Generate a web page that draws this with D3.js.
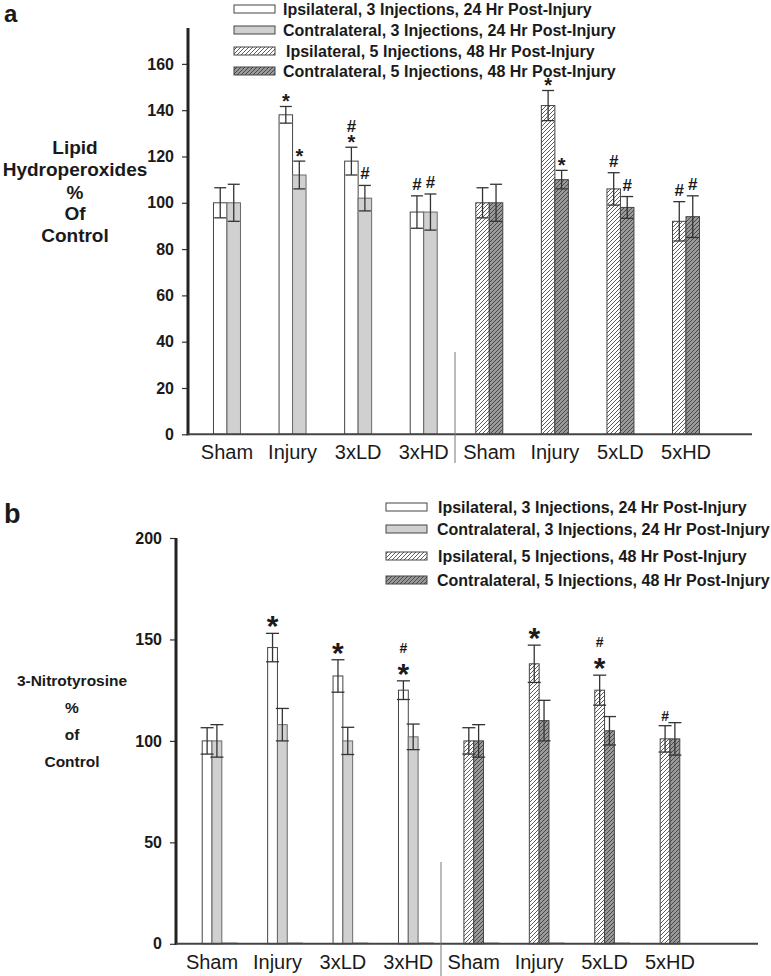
<!DOCTYPE html>
<html><head><meta charset="utf-8">
<script src="https://cdn.jsdelivr.net/npm/d3@7"></script>
<style>
body{margin:0;background:#fff}
svg{display:block}
text{font-family:"Liberation Sans",Arial,Helvetica,sans-serif;fill:#1a1a1a}
</style>
</head><body>
<svg id="chart" width="771" height="976"></svg>
<script>
// ---------- DATA ----------
const categories = ["Sham","Injury","3xLD","3xHD","Sham","Injury","5xLD","5xHD"];
const seriesNames = [
  "Ipsilateral, 3 Injections, 24 Hr Post-Injury",
  "Contralateral, 3 Injections, 24 Hr Post-Injury",
  "Ipsilateral, 5 Injections, 48 Hr Post-Injury",
  "Contralateral, 5 Injections, 48 Hr Post-Injury"
];
// Panel a: Lipid hydroperoxides (% of control)
const lpoTicks = [0,20,40,60,80,100,120,140,160];
const lpoIpsi      = [100,138,118,96,100,142,106,92];
const lpoIpsiErr   = [6.5,3.6,6,7,6.5,6.5,7,8.5];
const lpoContra    = [100,112,102,96,100,110,98,94];
const lpoContraErr = [8,6,5.5,7.8,8,4,4.7,9];
const lpoIpsiMarks   = ["","*","#*","#","","*","#","#"];
const lpoContraMarks = ["","*","#","#","","*","#","#"];
// Panel b: 3-Nitrotyrosine (% of control)
const ntTicks = [0,50,100,150,200];
const ntIpsi      = [100,146,132,125,100,138,125,101];
const ntIpsiErr   = [6.5,7,8,4.6,6.5,9.2,7.4,6.5];
const ntContra    = [100,108,100,102,100,110,105,101];
const ntContraErr = [8,8,6.7,6.3,8,10,7,8];
const ntIpsiMarks   = ["","*","*","#*","","*","#*","#"];
const ntContraMarks = ["","","","","","","",""];

// ---------- SETUP ----------
const svg = d3.select("#chart");
const defs = svg.append("defs");
function hatch(id, bg){
  const p = defs.append("pattern").attr("id",id).attr("patternUnits","userSpaceOnUse")
    .attr("width",4).attr("height",4);
  p.append("rect").attr("width",4).attr("height",4).attr("fill",bg);
  p.append("path").attr("d","M-1,1 l2,-2 M0,4 l4,-4 M3,5 l2,-2")
    .attr("stroke","#333").attr("stroke-width",0.8);
}
hatch("hatchW","#ffffff");
hatch("hatchG","#9a9a9a");
const fills = ["#ffffff","#d0d0d0","url(#hatchW)","url(#hatchG)"];

function drawPanel(cfg, d){
  const g = svg.append("g");
  const y = d3.scaleLinear().domain([0,cfg.yMax]).range([cfg.y0,cfg.yTop]);
  const x = d3.scaleBand().domain(d3.range(categories.length)).range(cfg.xRange);
  const cx = i => x(i) + x.bandwidth()/2;

  // panel letter
  g.append("text").attr("x",cfg.letterX).attr("y",cfg.letterY)
    .attr("font-size",cfg.letterSize).attr("font-weight","bold").text(cfg.letter);

  // y label
  cfg.yLabel.forEach((t,k)=>{
    g.append("text").attr("x",cfg.yLabelX).attr("y",cfg.yLabelY[k])
      .attr("text-anchor","middle").attr("font-size",cfg.yLabelSize)
      .attr("font-weight","bold").text(t);
  });

  // y axis
  const ya = g.append("g").attr("transform",`translate(${cfg.axisX},0)`)
    .call(d3.axisLeft(y).tickValues(cfg.ticks).tickSize(6).tickPadding(8));
  ya.select(".domain").remove();
  ya.selectAll(".tick line").attr("stroke","#333").attr("stroke-width",1.2);
  ya.selectAll(".tick text").attr("font-size",16).attr("font-weight","bold")
    .attr("font-family","Liberation Sans, Arial, sans-serif").attr("fill","#1a1a1a");
  g.append("line").attr("x1",cfg.axisX).attr("x2",cfg.axisX)
    .attr("y1",y(0)+1).attr("y2",cfg.yTop).attr("stroke","#222").attr("stroke-width",3);

  // bars
  const bw = cfg.bw;
  const bars = [];
  categories.forEach((c,i)=>{
    const s0 = i<4 ? 0 : 2, s1 = i<4 ? 1 : 3;
    bars.push({i, s:s0, v:d.ipsi[i], e:d.ipsiErr[i], m:d.ipsiMarks[i], x0:cx(i)-bw});
    bars.push({i, s:s1, v:d.contra[i], e:d.contraErr[i], m:d.contraMarks[i], x0:cx(i)});
  });
  // phantom zero-height bars (panel b only)
  if(cfg.phantom){
    cfg.phantom.forEach(i=>{
      g.append("line").attr("x1",cx(i)+bw).attr("x2",cx(i)+bw*2.6)
        .attr("y1",y(0)-0.5).attr("y2",y(0)-0.5).attr("stroke","#555").attr("stroke-width",1.3);
    });
  }
  g.selectAll("rect.bar").data(bars).enter().append("rect").attr("class","bar")
    .attr("x",b=>b.x0).attr("width",bw)
    .attr("y",b=>y(b.v)).attr("height",b=>y(0)-y(b.v))
    .attr("fill",b=>fills[b.s]).attr("stroke",b=>b.s===1?"#6a6a6a":"#444").attr("stroke-width",1);

  // error bars
  const cw = cfg.capW;
  bars.forEach(b=>{
    const xm = b.x0 + bw/2, yt = y(b.v+b.e), yb = y(b.v-b.e);
    g.append("line").attr("x1",xm).attr("x2",xm).attr("y1",yt).attr("y2",yb)
      .attr("stroke","#333").attr("stroke-width",1.3);
    [yt,yb].forEach(yy=>g.append("line").attr("x1",xm-cw/2).attr("x2",xm+cw/2)
      .attr("y1",yy).attr("y2",yy).attr("stroke","#333").attr("stroke-width",1.3));
    // significance marks (stacked "#" above "*" in one text element)
    if(b.m){
      const hasStar = b.m.includes("*"), hasHash = b.m.includes("#");
      const t = g.append("text").attr("text-anchor","middle").attr("font-weight","bold");
      if(hasHash){
        t.append("tspan").attr("x",xm).attr("y",yt+(hasStar?cfg.hashStackOff:cfg.hashOff))
          .attr("font-size",cfg.hashSize).text("#");
      }
      if(hasStar){
        t.append("tspan").attr("x",xm).attr("y",yt+cfg.starOff)
          .attr("font-size",cfg.starSize).text("*");
      }
    }
  });

  // x axis
  g.append("line").attr("x1",cfg.axisX).attr("x2",cfg.xLineEnd).attr("y1",y(0)).attr("y2",y(0))
    .attr("stroke","#444").attr("stroke-width",2);
  const xa = g.append("g").attr("transform",`translate(0,${y(0)})`)
    .call(d3.axisBottom(x).tickSize(0).tickPadding(11).tickFormat(i=>categories[i]));
  xa.select(".domain").remove();
  xa.selectAll(".tick text").attr("font-size",20)
    .attr("font-family","Liberation Sans, Arial, sans-serif").attr("fill","#1a1a1a");

  // separator
  g.append("line").attr("x1",cfg.sepX).attr("x2",cfg.sepX).attr("y1",cfg.sepY[0]).attr("y2",cfg.sepY[1])
    .attr("stroke","#777").attr("stroke-width",1);

  // legend
  seriesNames.forEach((n,k)=>{
    const yc = cfg.legY[k];
    g.append("rect").attr("x",cfg.legX).attr("y",yc-4).attr("width",41).attr("height",8)
      .attr("fill",fills[k]).attr("stroke","#444").attr("stroke-width",1);
    g.append("text").attr("x",cfg.legTextX[k]).attr("y",yc+6).attr("font-size",16)
      .attr("font-weight","bold").text(n);
  });
}

drawPanel({
  letter:"a", letterX:4, letterY:22, letterSize:24,
  yLabel:["Lipid","Hydroperoxides","%","Of","Control"], yLabelX:75, yLabelSize:19,
  yLabelY:[154,176,199,220,242],
  ticks:lpoTicks, axisX:188, y0:434.3, yTop:28, yMax:175.5,
  xRange:[194.2,718.8], bw:13.5, capW:12, xLineEnd:752,
  starSize:20, starOff:1.5, hashSize:17, hashOff:-6, hashStackOff:-15.5,
  sepX:455, sepY:[352,463],
  legX:234, legTextX:[283,283,286,283], legY:[9,30,51,71]
},{ipsi:lpoIpsi, ipsiErr:lpoIpsiErr, contra:lpoContra, contraErr:lpoContraErr,
   ipsiMarks:lpoIpsiMarks, contraMarks:lpoContraMarks});

drawPanel({
  letter:"b", letterX:4, letterY:523, letterSize:27,
  yLabel:["3-Nitrotyrosine","%","of","Control"], yLabelX:72, yLabelSize:15.5,
  yLabelY:[685.5,713,739.5,767],
  ticks:ntTicks, axisX:176, y0:943.8, yTop:538, yMax:200,
  xRange:[179.3,702.7], bw:9.8, capW:13, xLineEnd:758,
  starSize:30, starOff:3, hashSize:14, hashOff:-4.7, hashStackOff:-28.3,
  sepX:441, sepY:[862,976], phantom:[0,1,2,3,4,5,6],
  legX:386, legTextX:[438,437,438,437], legY:[507,529,556,580]
},{ipsi:ntIpsi, ipsiErr:ntIpsiErr, contra:ntContra, contraErr:ntContraErr,
   ipsiMarks:ntIpsiMarks, contraMarks:ntContraMarks});
</script>
</body></html>
